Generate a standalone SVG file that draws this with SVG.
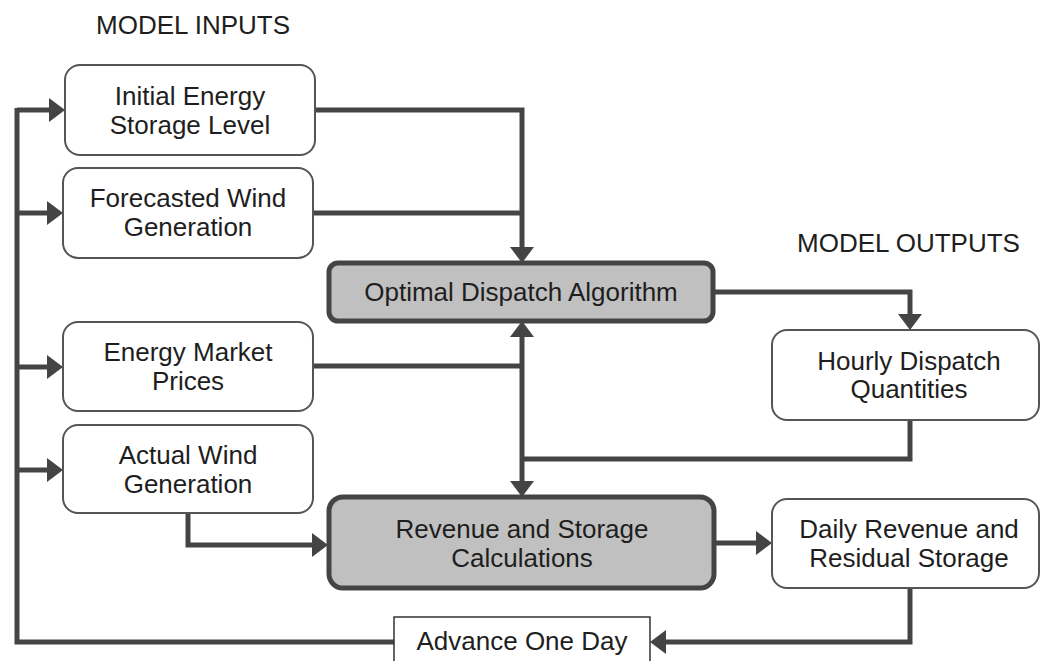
<svg xmlns="http://www.w3.org/2000/svg" width="1041" height="661" viewBox="0 0 1041 661">
<style>
.box{fill:#ffffff;stroke:#555555;stroke-width:2}
.core{fill:#c0c0c0;stroke:#444444;stroke-width:5}
.t{font-family:"Liberation Sans",Arial,sans-serif;font-size:26px;fill:#1e1e1e;text-anchor:middle}
.h{font-family:"Liberation Sans",Arial,sans-serif;font-size:26px;fill:#1e1e1e}
.c{fill:none;stroke:#444444;stroke-width:5;stroke-linejoin:miter}
</style>
<defs>
<marker id="ah" viewBox="0 0 16 24" refX="0" refY="12" markerWidth="16" markerHeight="24" markerUnits="userSpaceOnUse" orient="auto-start-reverse">
<path d="M0,0 L16,12 L0,24 z" fill="#444444"/>
</marker>
</defs>
<rect width="1041" height="661" fill="#ffffff"/>
<text class="h" x="96" y="34">MODEL INPUTS</text>
<text class="h" x="797" y="252">MODEL OUTPUTS</text>
<g id="connectors">
<path class="c" d="M394,642 H17 V108"/>
<path class="c" d="M17,110 H49" marker-end="url(#ah)"/>
<path class="c" d="M17,213 H47" marker-end="url(#ah)"/>
<path class="c" d="M17,367 H47" marker-end="url(#ah)"/>
<path class="c" d="M17,470 H47" marker-end="url(#ah)"/>
<path class="c" d="M315,110 H522 V247" marker-end="url(#ah)"/>
<path class="c" d="M313,213 H522"/>
<path class="c" d="M313,366 H522"/>
<path class="c" d="M522,337 V481" marker-start="url(#ah)" marker-end="url(#ah)"/>
<path class="c" d="M713,292 H910 V314" marker-end="url(#ah)"/>
<path class="c" d="M910,420 V459 H522"/>
<path class="c" d="M188,513 V545 H312" marker-end="url(#ah)"/>
<path class="c" d="M714,543 H756" marker-end="url(#ah)"/>
<path class="c" d="M910,588 V642 H666" marker-end="url(#ah)"/>
</g>
<g id="initial-storage">
<rect class="box" x="65" y="65" width="250" height="90" rx="15"/>
<text class="t" x="190" y="105">Initial Energy</text>
<text class="t" x="190" y="134">Storage Level</text>
</g>
<g id="forecast-wind">
<rect class="box" x="63" y="168" width="250" height="90" rx="15"/>
<text class="t" x="188" y="207">Forecasted Wind</text>
<text class="t" x="188" y="236">Generation</text>
</g>
<g id="market-prices">
<rect class="box" x="63" y="322" width="250" height="89" rx="15"/>
<text class="t" x="188" y="361">Energy Market</text>
<text class="t" x="188" y="390">Prices</text>
</g>
<g id="actual-wind">
<rect class="box" x="63" y="425" width="250" height="88" rx="15"/>
<text class="t" x="188" y="464">Actual Wind</text>
<text class="t" x="188" y="493">Generation</text>
</g>
<g id="dispatch-algorithm">
<rect class="core" x="329" y="263" width="384" height="58" rx="9"/>
<text class="t" x="521" y="301">Optimal Dispatch Algorithm</text>
</g>
<g id="revenue-calc">
<rect class="core" x="329" y="497" width="385" height="91" rx="14"/>
<text class="t" x="522" y="538">Revenue and Storage</text>
<text class="t" x="522" y="567">Calculations</text>
</g>
<g id="hourly-dispatch">
<rect class="box" x="772" y="330" width="267" height="90" rx="15"/>
<text class="t" x="909" y="370">Hourly Dispatch</text>
<text class="t" x="909" y="398">Quantities</text>
</g>
<g id="daily-revenue">
<rect class="box" x="772" y="499" width="267" height="89" rx="15"/>
<text class="t" x="909" y="538">Daily Revenue and</text>
<text class="t" x="909" y="567">Residual Storage</text>
</g>
<g id="advance-day">
<rect x="394" y="617" width="256" height="60" fill="#ffffff" stroke="#333333" stroke-width="1.5"/>
<text class="t" x="522" y="650">Advance One Day</text>
</g>
</svg>
